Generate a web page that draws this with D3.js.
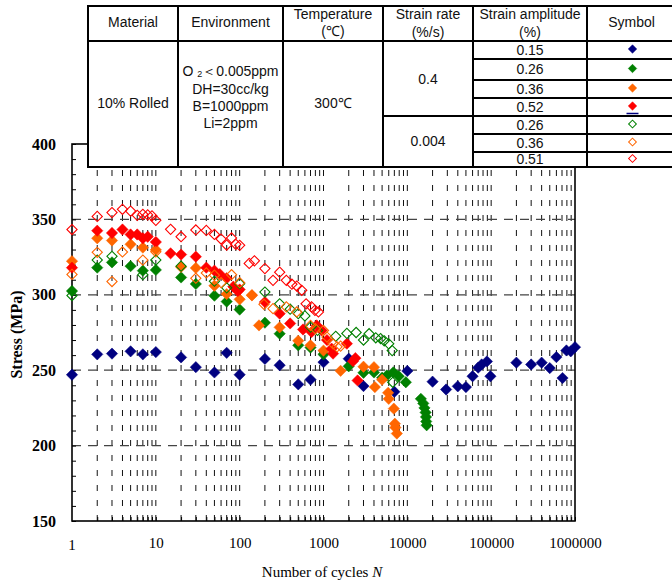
<!DOCTYPE html>
<html>
<head>
<meta charset="utf-8">
<script src="https://cdn.jsdelivr.net/npm/d3@7"></script>
<style>
  body { margin: 0; background: #fff; }
  svg { display: block; }
</style>
</head>
<body>
<div id="chart"></div>
<script>
const WIDTH = 672, HEIGHT = 584;
const X_LEFT = 72, X_RIGHT = 575, Y_TOP = 144, Y_BOT = 521;

// [cycles, stress MPa]
const fast015 = [[1,247],[2,260.5],[3,261],[5,262.5],[7,260.5],[10,262],[20,258.5],[30,252],[50,248.5],[70,261.5],
  [100,247],[200,257.5],[300,253.3],[500,240.6],[700,243.8],[1000,255.3],[2000,257.6],[3000,239.5],[7000,235.7],
  [10000,249.5],[20000,242.4],[29000,237.2],[40000,239.3],[50000,238.8],[60000,246],[70000,251.7],[77000,253.8],
  [89000,255.8],[98000,246],[200000,255],[300000,253.8],[400000,255],[500000,251.4],[600000,258.7],[710000,244.8],
  [790000,263.1],[890000,262.5],[1000000,265.3]];
const fast026 = [[1,302.5],[2,318],[3,321.5],[5,319],[7,316],[10,316.5],[20,311.5],[30,307.2],[50,299.4],[70,295.5],
  [100,290.2],[200,281.5],[300,274.2],[500,266.5],[700,265],[1000,260.5],[2000,252.6],[3000,248.3],[4000,248.5],
  [5000,245],[5700,246.5],[6800,248.6],[7900,246],[9600,242],[14500,231],[15500,228],[16000,225],[16500,222],
  [16700,219],[16800,216],[17000,213.5]];
const fast036 = [[1,322.3],[2,337.5],[3,336],[5,333.5],[7,331.3],[10,329.8],[20,318.5],[30,317.8],[50,306],[70,300.5],
  [100,297],[140,299.8],[170,279.7],[300,278.4],[500,269.5],[700,266.5],[1000,263],[1600,249.6],[3000,252.3],
  [4000,252],[4100,238.8],[5000,243.7],[5900,235],[6000,231],[6900,224.5],[7100,214.5],[7200,212],[7500,208]];
const fast052 = [[1,318],[2,342.5],[3,341],[4,343.3],[5,340],[6,340],[7,337.5],[8,338.5],[10,335],[15,327.5],
  [20,326.7],[30,325.3],[40,318],[50,316],[58,313.7],[70,311],[84,305.4],[95,302.5],[100,303.5],[200,295.2],
  [300,287.5],[400,281],[570,277],[720,275.3],[830,279.7],[950,276.4],[1100,270],[1250,264.3],[1300,261],
  [1900,267.6],[2250,256],[2400,258],[2550,243.2]];
const slow026 = [[1,299.5],[2,323],[3,325.5],[7,313.3],[10,323],[20,319],[50,309],[70,304.6],[100,307.4],[200,301.8],
  [300,294],[400,290.5],[500,287.5],[600,286],[700,278.6],[850,276.4],[1400,272.5],[1900,274.4],[2450,275],
  [3000,270],[3500,274.2],[4200,271.5],[4800,271],[5300,269.5],[6000,267.5],[6600,263],[6700,242]];
const slow036 = [[1,313.5],[2,328.2],[3,308.8],[4,328.4],[7,323],[10,328.5],[30,311],[40,314.5],[50,313],[60,308],
  [80,313.3],[100,308],[140,299.6],[195,293.7],[250,290.8],[360,292],[480,288.6],[700,279.7],[800,277.5],
  [1000,276.4],[1100,272],[1300,267.5],[1450,265.5],[1600,266]];
const slow051 = [[1,343.3],[2,352],[3,354.5],[4,356.7],[5,355.5],[6,352.7],[7,353.4],[8,353],[9,352.3],[10,349.4],
  [15,343.4],[20,338.5],[30,343],[40,342.7],[50,340],[60,337],[70,333],[80,337.7],[90,333.5],[100,332.8],
  [130,320.8],[150,322.5],[200,317.4],[250,309.6],[300,315],[360,309.6],[420,307],[480,305.8],[550,303],
  [620,294],[720,292],[790,289.7],[870,288.6]];

const seriesData = [fast015, fast026, fast036, fast052, slow026, slow036, slow051];
const seriesColors = ["#000080", "#008000", "#FF6600", "#FF0000", "#008000", "#FF6600", "#FF0000"];
const seriesFilled = [true, true, true, true, false, false, false];
const amplitudes = ["0.15", "0.26", "0.36", "0.52", "0.26", "0.36", "0.51"];
const yTicks = d3.range(150, 401, 10);
const yLabels = [150, 200, 250, 300, 350, 400];
const yGrid = [200, 250, 300, 350];
const xDecades = [1, 10, 100, 1000, 10000, 100000, 1000000];

const svg = d3.select("#chart").append("svg")
    .attr("width", WIDTH)
    .attr("height", HEIGHT)

const x = d3.scaleLog().domain([1, 1e6]).range([X_LEFT, X_RIGHT]);
const y = d3.scaleLinear().domain([150, 400]).range([Y_BOT, Y_TOP]);

// all log positions 2..9 x decade, plus decades
const xMinor = [];
for (let d = 1; d < 1e6; d *= 10) {
    for (let k = 2; k <= 10; k++) xMinor.push(d * k);
}

// grid
svg.append("g").selectAll("line").data(xMinor.filter(v => v < 1e6)).join("line")
    .attr("x1", d => x(d)).attr("x2", d => x(d))
    .attr("y1", Y_BOT).attr("y2", Y_TOP)
    .attr("stroke", "#111").attr("stroke-width", 1)
    .attr("stroke-dasharray", "6,9")
svg.append("g").selectAll("line").data(yGrid).join("line")
    .attr("x1", X_LEFT).attr("x2", X_RIGHT)
    .attr("y1", d => y(d)).attr("y2", d => y(d))
    .attr("stroke", "#444").attr("stroke-width", 1.3)
    .attr("stroke-dasharray", "9,7")

// axes
const yAxis = svg.append("g")
    .attr("transform", `translate(${X_LEFT},0)`)
    .call(d3.axisLeft(y).tickValues(yTicks).tickSizeInner(-4).tickSizeOuter(0).tickPadding(16)
        .tickFormat(d => yLabels.includes(d) ? d : ""))
yAxis.select(".domain").remove();
yAxis.selectAll("text")
    .attr("font-family", "'Liberation Serif', 'Times New Roman', serif")
    .attr("font-weight", "bold").attr("font-size", 16).attr("fill", "#000")

const xAxis = svg.append("g")
    .attr("transform", `translate(0,${Y_BOT})`)
    .call(d3.axisBottom(x).tickValues(xMinor).tickSizeInner(-4).tickSizeOuter(0).tickPadding(16)
        .tickFormat(d => xDecades.includes(d) ? d3.format("d")(d) : ""))
xAxis.select(".domain").remove();
xAxis.selectAll("text")
    .attr("font-family", "'Liberation Serif', 'Times New Roman', serif")
    .attr("font-size", 15).attr("fill", "#000")
svg.append("text")
    .attr("x", x(1)).attr("y", Y_BOT + 29)
    .attr("text-anchor", "middle")
    .attr("font-family", "'Liberation Serif', serif").attr("font-size", 15)
    .text("1")

// plot frame
svg.append("rect")
    .attr("x", X_LEFT).attr("y", Y_TOP)
    .attr("width", X_RIGHT - X_LEFT).attr("height", Y_BOT - Y_TOP)
    .attr("fill", "none").attr("stroke", "#000").attr("stroke-width", 1.6)

// axis titles
svg.append("text")
    .attr("transform", `translate(22,${(Y_TOP + Y_BOT) / 2 + 2}) rotate(-90)`)
    .attr("text-anchor", "middle")
    .attr("font-family", "'Liberation Serif', serif").attr("font-weight", "bold").attr("font-size", 16)
    .text("Stress (MPa)")
const xTitle = svg.append("text")
    .attr("x", 322).attr("y", 577)
    .attr("text-anchor", "middle")
    .attr("font-family", "'Liberation Serif', serif").attr("font-size", 15)
xTitle.append("tspan").text("Number of cycles ")
xTitle.append("tspan").attr("font-style", "italic").text("N")

// markers
const diamond = size => d3.symbol(d3.symbolSquare, size)()
seriesData.forEach((data, i) => {
    const filled = seriesFilled[i];
    svg.append("g").selectAll("path").data(data).join("path")
        .attr("d", diamond(filled ? 64 : 52))
        .attr("transform", d => `translate(${x(d[0])},${y(d[1])}) rotate(45)`)
        .attr("fill", filled ? seriesColors[i] : "#fff")
        .attr("fill-opacity", filled ? 1 : 0)
        .attr("stroke", seriesColors[i])
        .attr("stroke-width", filled ? 0.5 : 1.1)
})

// ---- table ----
const table = svg.append("g");
const colX = [88, 178, 283, 383, 473, 587, 676];
const rowY = [41, 59, 80, 98, 116, 134, 152, 167];
const T_TOP = 6;
table.append("rect")
    .attr("x", colX[0]).attr("y", T_TOP)
    .attr("width", colX[6] - colX[0]).attr("height", rowY[7] - T_TOP)
    .attr("fill", "#fff").attr("stroke", "#000").attr("stroke-width", 2)
const tLine = (x1, y1, x2, y2) => table.append("line")
    .attr("x1", x1).attr("y1", y1).attr("x2", x2).attr("y2", y2)
    .attr("stroke", "#000").attr("stroke-width", 2)
colX.slice(1, 6).forEach(cx => tLine(cx, T_TOP, cx, rowY[7]))
tLine(colX[0], rowY[0], colX[6], rowY[0])
rowY.slice(1, 7).forEach(ry => tLine(colX[4], ry, colX[6], ry))
tLine(colX[3], 116, colX[4], 116)

const tText = (tx, ty, str, size = 14) => table.append("text")
    .attr("x", tx).attr("y", ty)
    .attr("text-anchor", "middle").attr("dominant-baseline", "middle")
    .attr("font-family", "'Liberation Sans', Arial, sans-serif").attr("font-size", size)
    .attr("fill", "#111")
    .text(str)
const mid = i => (colX[i] + colX[i + 1]) / 2;
tText(mid(0), 23, "Material")
tText(mid(1), 23, "Environment")
tText(mid(2), 15, "Temperature")
tText(mid(2), 32, "(℃)")
tText(mid(3), 15, "Strain rate")
tText(mid(3), 33, "(%/s)")
tText(mid(4), 15, "Strain amplitude")
tText(mid(4), 33, "(%)")
tText(mid(5), 23, "Symbol")
tText(mid(0), 104, "10% Rolled")
const o2 = tText(mid(1), 72, "O ");
o2.append("tspan").attr("font-size", 9).attr("dy", 3).text("2")
o2.append("tspan").attr("dy", -3).text("＜0.005ppm")
tText(mid(1), 90, "DH=30cc/kg")
tText(mid(1), 107, "B=1000ppm")
tText(mid(1), 124, "Li=2ppm")
tText(mid(2), 104, "300℃")
tText(mid(3), 80, "0.4")
tText(mid(3), 142, "0.004")
amplitudes.forEach((a, i) => {
    tText(mid(4), (rowY[i] + rowY[i + 1]) / 2 + 1, a)
    const filled = seriesFilled[i];
    table.append("path")
        .attr("d", diamond(filled ? 36 : 30))
        .attr("transform", `translate(${mid(5) + 1},${(rowY[i] + rowY[i + 1]) / 2 - 1}) rotate(45)`)
        .attr("fill", filled ? seriesColors[i] : "#fff")
        .attr("stroke", seriesColors[i])
        .attr("stroke-width", filled ? 0.5 : 1)
})
table.append("line")
    .attr("x1", mid(5) - 5).attr("x2", mid(5) + 7)
    .attr("y1", 113.5).attr("y2", 113.5)
    .attr("stroke", "#000080").attr("stroke-width", 1.5)
</script>
</body>
</html>
